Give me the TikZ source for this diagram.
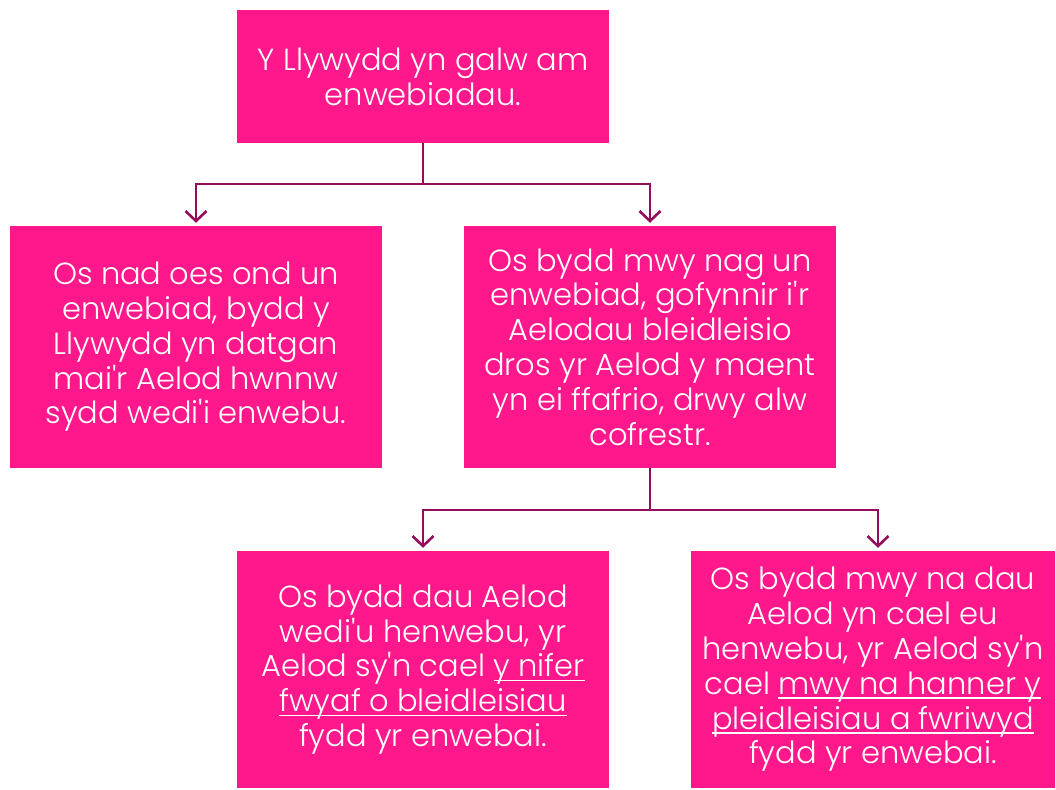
\documentclass[tikz,border=0pt]{standalone}
\usepackage{fontspec}
\setmainfont{Poppins Light}[Ligatures=TeXOff]
\usetikzlibrary{arrows.meta}
\definecolor{boxpink}{RGB}{255,24,140}
\definecolor{linepurple}{RGB}{148,12,90}
\tikzset{
  pinkbox/.style={fill=boxpink, text=white, align=center, inner sep=0pt,
    font=\fontsize{30.5}{34.8}\selectfont},
  conn/.style={draw=linepurple, line width=2.6pt,
    -{Straight Barb[length=10pt,width=21pt,line width=2.6pt]}, shorten >=3pt},
  seg/.style={draw=linepurple, line width=2.6pt}
}
\newcommand{\ul}[1]{\setbox0\hbox{#1}\rlap{\color{white}\rule[-4.5pt]{\wd0}{1.6pt}}\box0}
\begin{document}
\begin{tikzpicture}[x=1pt,y=-1pt]
\useasboundingbox (0,0) rectangle (1056,789);
\node[pinkbox, minimum width=372pt, minimum height=133pt] (top) at (423,76.5)
  {Y Llywydd yn galw am\\enwebiadau.};
\node[pinkbox, minimum width=372pt, minimum height=242pt] (left) at (196,347)
  {Os nad oes ond un\\enwebiad, bydd y\\Llywydd yn datgan\\mai'r Aelod hwnnw\\sydd wedi'i enwebu.};
\node[pinkbox, minimum width=372pt, minimum height=242pt] (right) at (650,347)
  {Os bydd mwy nag un\\enwebiad, gofynnir i'r\\Aelodau bleidleisio\\dros yr Aelod y maent\\yn ei ffafrio, drwy alw\\cofrestr.};
\node[pinkbox, minimum width=372pt, minimum height=237pt] (bl) at (423,669.5)
  {Os bydd dau Aelod\\wedi'u henwebu, yr\\Aelod sy'n cael \ul{y nifer}\\\ul{fwyaf o bleidleisiau}\\fydd yr enwebai.};
\node[pinkbox, minimum width=364pt, minimum height=237pt] (br) at (873,669.5)
  {Os bydd mwy na dau\\Aelod yn cael eu\\henwebu, yr Aelod sy'n\\cael \ul{mwy na hanner y}\\\ul{pleidleisiau a fwriwyd}\\fydd yr enwebai.};
\coordinate (j1) at (423,184);
\coordinate (j2) at (650,510);
\draw[seg] (top.south) -- (j1);
\draw[conn] (j1) -| (left.north);
\draw[conn] (j1) -| (right.north);
\draw[seg] (right.south) -- (j2);
\draw[conn] (j2) -| (bl.north);
\draw[conn] (j2) -| ([xshift=5pt]br.north);
\end{tikzpicture}
\end{document}
